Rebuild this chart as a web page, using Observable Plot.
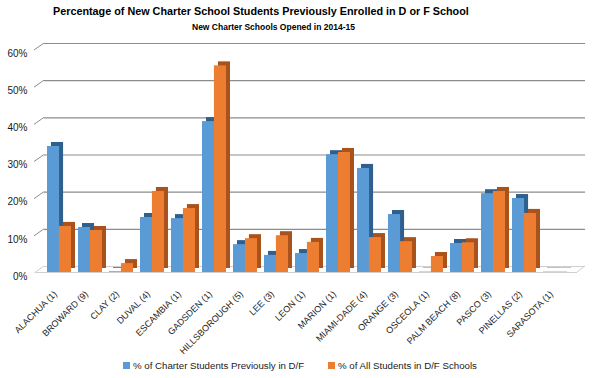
<!DOCTYPE html>
<html>
<head>
<meta charset="utf-8">
<script src="https://cdn.jsdelivr.net/npm/d3@7"></script>
<script src="https://cdn.jsdelivr.net/npm/@observablehq/plot@0.6"></script>
<style>
  body { margin: 0; background: #fff; font-family: "Liberation Sans", Arial, sans-serif; }
  #wrap { position: relative; width: 600px; height: 378px; overflow: hidden; }
  #title { position: absolute; top: 5px; left: 53px; width: 410px; text-align: center; font-weight: bold; font-size: 10.8px; color: #000; white-space: nowrap; }
  #subtitle { position: absolute; top: 22px; left: 190px; width: 167px; text-align: center; font-weight: bold; font-size: 8.5px; color: #000; white-space: nowrap; }
  #chart { position: absolute; top: 33px; left: 0; }
  #legend { position: absolute; top: 360px; left: 0; width: 600px; font-size: 9.7px; color: #1a1a1a; }
  .li { position: absolute; top: 0; white-space: nowrap; }
  .sw { display: inline-block; width: 7px; height: 7px; margin-right: 3px; vertical-align: 0px; }
</style>
</head>
<body>
<div id="wrap">
  <div id="title"></div>
  <div id="subtitle"></div>
  <div id="chart"></div>
  <div id="legend"></div>
</div>
<script>
const titleText = "Percentage of New Charter School Students Previously Enrolled in D or F School";
const subtitleText = "New Charter Schools Opened in 2014-15";
const counties = ["ALACHUA (1)", "BROWARD (9)", "CLAY (2)", "DUVAL (4)", "ESCAMBIA (1)", "GADSDEN (1)", "HILLSBOROUGH (5)", "LEE (3)", "LEON (1)", "MARION (1)", "MIAMI-DADE (4)", "ORANGE (3)", "OSCEOLA (1)", "PALM BEACH (8)", "PASCO (3)", "PINELLAS (2)", "SARASOTA (1)"];
const charterPct = [33.9, 12.1, 0.2, 14.8, 14.5, 40.6, 7.5, 4.6, 5.1, 31.7, 28.0, 15.6, 0.1, 7.8, 21.2, 19.9, 0.1];
const allPct = [12.4, 11.3, 2.4, 21.8, 17.2, 55.6, 9.1, 9.9, 8.1, 32.3, 9.4, 8.3, 4.3, 8.0, 21.8, 15.9, 0.1];
const seriesNames = ["% of Charter Students Previously in D/F", "% of All Students in D/F Schools"];
const yTicks = [0, 10, 20, 30, 40, 50, 60];

const colors = ["#5b9bd5", "#ed7d31"];
const darkColors = ["#2f5f8c", "#a9521b"];

document.getElementById("title").textContent = titleText;
document.getElementById("subtitle").textContent = subtitleText;

const W = 600, H = 330, mL = 36, mR = 23, mT = 16, mB = 91, pad = 0.24;
const step = (W - mL - mR) / (counties.length - pad + 2 * pad);
const bw = step * (1 - pad);
const half = bw / 2;

const blue = counties.map((c, i) => ({county: c, v: charterPct[i]}));
const orange = counties.map((c, i) => ({county: c, v: allPct[i]}));

const depthX = 4, depthY = -4;
const gridDX = 8, gridDY = -6;
const font = "'Liberation Sans', Arial, sans-serif";

const plot = Plot.plot({
  width: W, height: H,
  marginLeft: mL, marginRight: mR, marginTop: mT, marginBottom: mB,
  style: {fontFamily: font, fontSize: "9.7px", color: "#1a1a1a", background: "transparent", overflow: "visible"},
  x: {domain: counties, padding: pad, axis: null},
  y: {domain: [0, 60], axis: null},
  marks: [
    Plot.ruleY(yTicks.slice(1), {dx: gridDX, dy: gridDY, stroke: "#8c8c8c", strokeWidth: 1.2}),
    Plot.ruleY([0], {dx: gridDX, dy: gridDY, stroke: "#cfcfcf", strokeWidth: 1}),
    Plot.ruleY([0], {stroke: "#cfcfcf", strokeWidth: 1}),
    // depth faces
    Plot.barY(blue, {x: "county", y: "v", insetRight: half, fill: darkColors[0], dx: depthX, dy: depthY}),
    Plot.barY(blue, {x: "county", y: "v", insetRight: half, fill: colors[0]}),
    Plot.barY(orange, {x: "county", y: "v", insetLeft: half, fill: darkColors[1], dx: depthX, dy: depthY}),
    Plot.barY(orange, {x: "county", y: "v", insetLeft: half, fill: colors[1]}),
    // y tick labels
    Plot.text(yTicks, {y: d => d, frameAnchor: "left", text: d => d + "%", textAnchor: "end", dx: -9, dy: 4, fill: "#1a1a1a", fontSize: 10}),
    // x tick labels
    Plot.text(counties, {x: d => d, y: d => 0, text: d => d, rotate: -45, textAnchor: "end", dx: -4, dy: 20, fill: "#1a1a1a", fontSize: 9})
  ]
});
document.getElementById("chart").appendChild(plot);

// diagonal tick connectors & floor edges, positioned via the plot's y scale
const ys = plot.scale("y");
const svg = d3.select(plot);
const g = svg.insert("g", ":first-child");
yTicks.forEach(t => {
  const y = ys.apply(t);
  g.append("line").attr("x1", mL - 2).attr("y1", y + 1).attr("x2", mL + gridDX).attr("y2", y + gridDY)
    .attr("stroke", t === 0 ? "#cfcfcf" : "#8c8c8c").attr("stroke-width", 1);
});
const y0 = ys.apply(0);
g.append("line").attr("x1", W - mR).attr("y1", y0).attr("x2", W - mR + gridDX).attr("y2", y0 + gridDY)
  .attr("stroke", "#cfcfcf").attr("stroke-width", 1);

// legend
const legend = document.getElementById("legend");
const legendX = [123, 328];
seriesNames.forEach((name, i) => {
  const d = document.createElement("div");
  d.className = "li";
  d.style.left = legendX[i] + "px";
  d.innerHTML = `<span class="sw" style="background:${colors[i]}"></span>`;
  d.appendChild(document.createTextNode(name));
  legend.appendChild(d);
});
</script>
</body>
</html>
